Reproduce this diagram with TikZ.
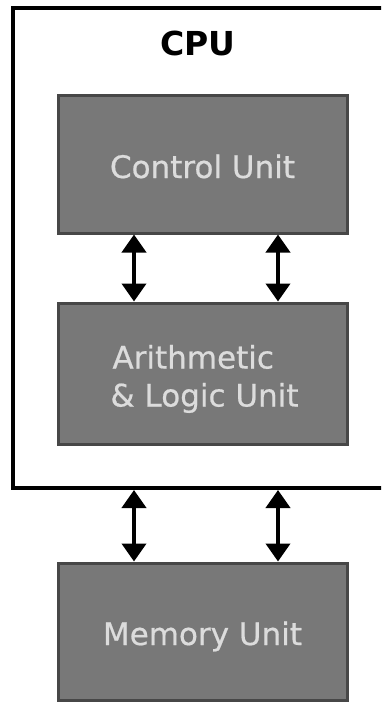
\documentclass[tikz,border=0pt]{standalone}
\usepackage{fontspec}
\setmainfont{DejaVu Sans}
\newfontfamily\unitfont[FakeBold=0.6]{DejaVu Sans}
\usetikzlibrary{arrows.meta}
\definecolor{boxfill}{HTML}{787878}
\definecolor{boxline}{HTML}{474747}
\definecolor{boxtext}{HTML}{DCDCDC}
\newcommand{\lowered}[2]{\raisebox{-#1}[0pt][0pt]{#2}}
\begin{document}
\begin{tikzpicture}[x=1pt,y=-1pt,
  unitbox/.style={draw=boxline, line width=3pt, fill=boxfill, minimum width=289pt,
    inner sep=0pt, text=boxtext, font=\unitfont\fontsize{31}{38}\selectfont},
  bus/.style={line width=4pt, {Triangle[width=24pt,length=18pt]}-{Triangle[width=24pt,length=18pt]}},
  frame/.style={line width=4pt, draw=black}]
\useasboundingbox (0,0) rectangle (381,702);
\fill[white] (0,0) rectangle (381,702);
\clip (0,0) rectangle (381,702);
% CPU frame (right side runs off the picture)
\draw[frame] (395,8) -- (13,8) -- (13,488) -- (395,488);
\coordinate (cpubot) at (200,490);
\node[font=\bfseries\fontsize{33}{38}\selectfont] (cpu) at (198,43) {CPU};
\node[unitbox, minimum height=138pt] (cu) at (202.5,164) {\lowered{14pt}{Control Unit}};
\node[unitbox, minimum height=141pt] (alu) at (202.5,373.5)
  {\lowered{33pt}{\hspace{4pt}\begin{tabular}[b]{@{}l@{}}\hspace{2pt}Arithmetic\\\& Logic Unit\end{tabular}}};
\node[unitbox, minimum height=137pt] (mem) at (202.5,631.5) {\lowered{13.5pt}{Memory Unit}};
\draw[bus] (cu.south -| 134,0) -- (alu.north -| 134,0);
\draw[bus] (cu.south -| 278,0) -- (alu.north -| 278,0);
\draw[bus] (cpubot -| 134,0) -- (mem.north -| 134,0);
\draw[bus] (cpubot -| 278,0) -- (mem.north -| 278,0);
\end{tikzpicture}
\end{document}
